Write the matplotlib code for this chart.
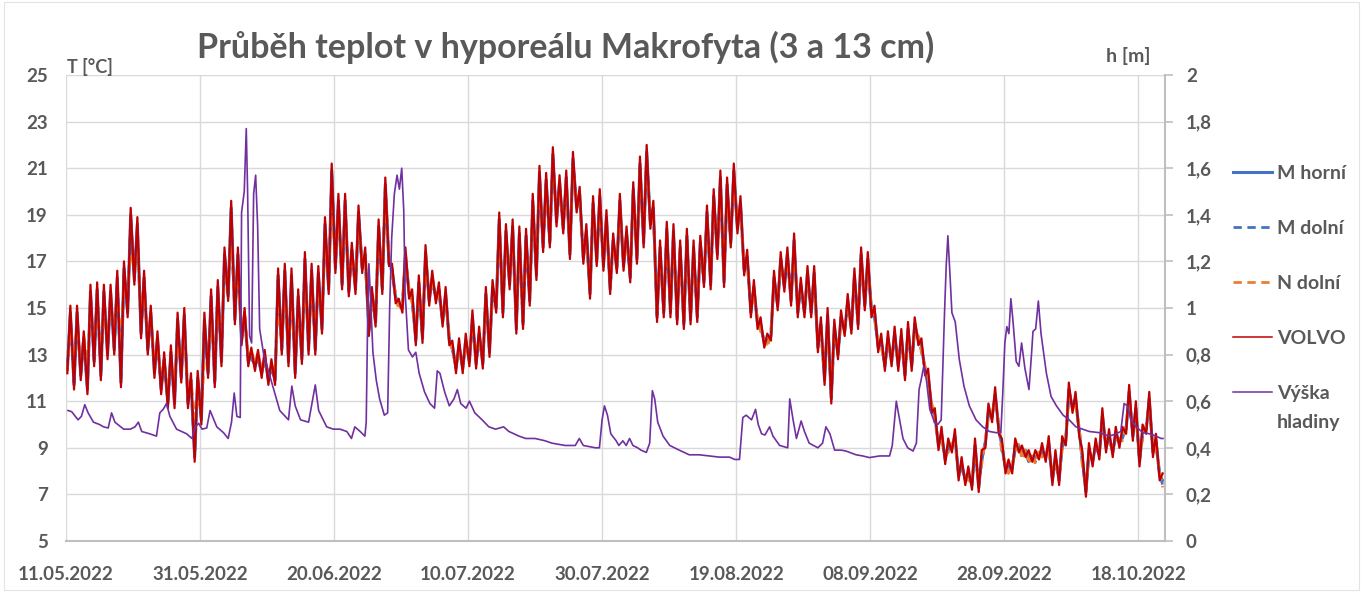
import matplotlib

matplotlib.use("Agg")
import matplotlib.dates as mdates
import matplotlib.pyplot as plt
import numpy as np
import pandas as pd
from matplotlib.patches import Rectangle
from matplotlib.ticker import FuncFormatter

plt.rcParams["font.family"] = ["Lato", "DejaVu Sans"]
plt.rcParams["font.weight"] = "bold"

START = pd.Timestamp("2022-05-11")
N_DAYS = 164
TICK_STEP = 20
TITLE = "Průběh teplot v hyporeálu Makrofyta (3 a 13 cm)"

# daily (morning low, afternoon high) temperature in degC, from 11.05.2022
VOLVO = [
    (12.2, 15.1), (11.5, 15.1), (11.9, 14.0), (11.3, 16.0), (12.5, 16.1), (11.9, 16.0), (12.8, 16.0), (13.0, 16.6), (11.6, 17.0), (14.6, 19.3),
    (16.0, 18.9), (13.7, 16.6), (13.0, 15.1), (12.0, 14.0), (11.3, 13.1), (10.7, 13.4), (10.7, 14.8), (11.8, 15.0), (10.7, 12.2), (8.4, 12.3),
    (10.0, 14.8), (12.0, 15.8), (11.6, 16.2), (12.5, 17.6), (15.3, 19.6), (14.3, 17.6), (13.4, 15.0), (12.5, 13.3), (12.3, 13.2), (12.0, 13.2),
    (11.7, 12.8), (11.7, 16.7), (13.0, 16.9), (12.5, 16.7), (12.0, 15.8), (12.6, 17.4), (13.0, 16.9), (13.0, 16.8), (13.9, 18.9), (15.6, 21.2),
    (16.5, 19.9), (15.8, 19.9), (15.5, 17.8), (15.6, 19.4), (16.5, 17.6), (13.8, 15.9), (14.2, 18.8), (15.6, 20.6), (16.8, 16.9), (15.2, 15.4),
    (14.8, 17.6), (15.4, 15.8), (13.4, 16.4), (13.5, 17.7), (15.1, 16.6), (15.2, 16.1), (14.2, 15.9), (13.4, 13.6), (12.2, 13.7), (12.2, 13.9),
    (12.5, 14.9), (12.4, 14.2), (12.4, 15.9), (12.9, 16.2), (14.8, 19.1), (14.6, 18.6), (15.8, 18.8), (13.9, 18.5), (14.1, 18.4), (15.1, 19.9),
    (16.2, 21.1), (17.4, 20.8), (17.6, 21.9), (18.5, 20.7), (18.2, 20.9), (17.1, 21.7), (19.1, 20.2), (16.9, 18.6), (15.4, 19.8), (16.8, 20.1),
    (16.6, 19.2), (15.6, 18.2), (16.5, 19.9), (16.6, 18.5), (16.1, 20.4), (16.9, 21.5), (17.6, 22.0), (18.4, 19.6), (14.4, 17.9), (14.6, 18.7),
    (14.6, 18.6), (14.3, 17.9), (14.1, 18.4), (14.3, 17.9), (14.4, 18.1), (15.9, 19.4), (15.8, 20.1), (17.1, 20.9), (15.9, 20.6), (17.6, 21.2),
    (18.2, 19.8), (16.4, 17.5), (14.6, 16.2), (14.1, 14.6), (13.3, 13.9), (13.6, 16.6), (14.9, 17.4), (15.7, 17.6), (15.1, 18.2), (14.6, 16.3),
    (14.6, 16.8), (14.6, 16.8), (13.1, 14.6), (11.7, 15.0), (10.9, 14.5), (12.8, 14.9), (13.8, 15.6), (13.9, 16.7), (14.1, 17.6), (14.9, 17.4),
    (14.6, 15.1), (13.1, 13.9), (12.3, 14.0), (12.5, 14.2), (12.3, 14.1), (11.9, 14.4), (12.3, 14.6), (13.4, 13.7), (12.1, 12.4), (10.5, 10.7),
    (8.9, 9.9), (8.3, 9.4), (8.8, 9.8), (7.6, 8.6), (7.4, 8.2), (7.2, 9.4), (7.1, 8.9), (9.0, 10.9), (10.1, 11.6), (9.6, 9.4),
    (7.9, 8.5), (7.9, 9.4), (8.8, 9.1), (8.6, 8.9), (8.4, 8.9), (8.5, 9.2), (8.4, 9.5), (7.4, 8.9), (7.4, 9.5), (9.1, 11.8),
    (10.5, 11.4), (9.5, 8.9), (6.9, 9.2), (8.2, 9.4), (8.5, 10.7), (8.8, 9.8), (8.6, 9.9), (9.0, 9.9), (9.6, 11.7), (9.3, 11.0),
    (8.2, 10.0), (9.6, 11.4), (8.6, 9.6), (7.6, 7.9),
]

M_HORNI = [
    (12.4, 14.8), (11.7, 14.8), (12.1, 13.7), (11.5, 15.7), (12.7, 15.8), (12.1, 15.7), (13.0, 15.7), (13.2, 16.3), (11.8, 16.7), (14.8, 19.0),
    (16.2, 18.6), (13.9, 16.3), (13.2, 14.8), (12.2, 13.7), (11.5, 12.8), (10.9, 13.1), (10.9, 14.5), (12.0, 14.7), (10.9, 11.9), (8.6, 12.0),
    (10.2, 14.5), (12.2, 15.5), (11.8, 15.9), (12.7, 17.3), (15.5, 19.3), (14.5, 17.3), (13.6, 14.7), (12.7, 13.0), (12.5, 12.9), (12.2, 12.9),
    (11.9, 12.5), (11.9, 16.4), (13.2, 16.6), (12.7, 16.4), (12.2, 15.5), (12.8, 17.1), (13.2, 16.6), (13.2, 16.5), (14.1, 18.6), (15.8, 20.9),
    (16.7, 19.6), (16.0, 19.6), (15.7, 17.5), (15.8, 19.1), (16.7, 17.3), (14.0, 15.6), (14.4, 18.5), (15.8, 20.3), (16.9, 16.7), (15.4, 15.2),
    (15.0, 17.3), (15.6, 15.5), (13.6, 16.1), (13.7, 17.4), (15.3, 16.3), (15.4, 15.8), (14.4, 15.6), (13.6, 13.4), (12.4, 13.4), (12.4, 13.6),
    (12.7, 14.6), (12.6, 13.9), (12.6, 15.6), (13.1, 15.9), (15.0, 18.8), (14.8, 18.3), (16.0, 18.5), (14.1, 18.2), (14.3, 18.1), (15.3, 19.6),
    (16.4, 20.8), (17.6, 20.5), (17.8, 21.6), (18.7, 20.4), (18.4, 20.6), (17.3, 21.4), (19.3, 19.9), (17.1, 18.3), (15.6, 19.5), (17.0, 19.8),
    (16.8, 18.9), (15.8, 17.9), (16.7, 19.6), (16.8, 18.2), (16.3, 20.1), (17.1, 21.2), (17.8, 21.7), (18.6, 19.3), (14.6, 17.6), (14.8, 18.4),
    (14.8, 18.3), (14.5, 17.6), (14.3, 18.1), (14.5, 17.6), (14.6, 17.8), (16.1, 19.1), (16.0, 19.8), (17.3, 20.6), (16.1, 20.3), (17.8, 20.9),
    (18.4, 19.5), (16.6, 17.2), (14.8, 15.9), (14.3, 14.3), (13.5, 13.6), (13.8, 16.3), (15.1, 17.1), (15.9, 17.3), (15.3, 17.9), (14.8, 16.0),
    (14.8, 16.5), (14.8, 16.5), (13.3, 14.3), (11.9, 14.7), (11.1, 14.2), (13.0, 14.6), (14.0, 15.3), (14.1, 16.4), (14.3, 17.3), (15.1, 17.1),
    (14.8, 14.8), (13.3, 13.6), (12.5, 13.7), (12.7, 13.9), (12.5, 13.8), (12.1, 14.1), (12.5, 14.3), (13.6, 13.4), (12.3, 12.1), (10.7, 10.4),
    (9.1, 9.6), (8.5, 9.1), (9.0, 9.5), (7.8, 8.3), (7.6, 7.9), (7.4, 9.1), (7.3, 8.6), (9.2, 10.6), (10.3, 11.3), (9.8, 9.1),
    (8.1, 8.2), (8.1, 9.1), (9.0, 8.8), (8.8, 8.6), (8.6, 8.6), (8.7, 8.9), (8.6, 9.2), (7.6, 8.6), (7.6, 9.2), (9.3, 11.5),
    (10.7, 11.1), (9.7, 8.6), (7.1, 8.9), (8.4, 9.1), (8.7, 10.4), (9.0, 9.5), (8.8, 9.6), (9.2, 9.6), (9.8, 11.4), (9.5, 10.7),
    (8.4, 9.7), (9.8, 11.1), (8.8, 9.3), (7.8, 7.6),
]

M_DOLNI = [
    (12.5, 14.6), (11.8, 14.6), (12.2, 13.5), (11.6, 15.5), (12.8, 15.6), (12.2, 15.5), (13.1, 15.5), (13.3, 16.1), (11.9, 16.5), (14.9, 18.8),
    (16.3, 18.4), (14.0, 16.1), (13.3, 14.6), (12.3, 13.5), (11.6, 12.6), (11.0, 12.9), (11.0, 14.3), (12.1, 14.5), (11.0, 11.7), (8.7, 11.8),
    (10.3, 14.3), (12.3, 15.3), (11.9, 15.7), (12.8, 17.1), (15.6, 19.1), (14.6, 17.1), (13.7, 14.5), (12.8, 12.8), (12.6, 12.7), (12.3, 12.7),
    (12.0, 12.3), (12.0, 16.2), (13.3, 16.4), (12.8, 16.2), (12.3, 15.3), (12.9, 16.9), (13.3, 16.4), (13.3, 16.3), (14.2, 18.4), (15.9, 20.7),
    (16.8, 19.4), (16.1, 19.4), (15.8, 17.3), (15.9, 18.9), (16.8, 17.1), (14.1, 15.4), (14.5, 18.3), (15.9, 20.1), (17.0, 16.5), (15.5, 15.0),
    (15.1, 17.1), (15.7, 15.3), (13.7, 15.9), (13.8, 17.2), (15.4, 16.1), (15.5, 15.6), (14.5, 15.4), (13.7, 13.2), (12.5, 13.2), (12.5, 13.4),
    (12.8, 14.4), (12.7, 13.7), (12.7, 15.4), (13.2, 15.7), (15.1, 18.6), (14.9, 18.1), (16.1, 18.3), (14.2, 18.0), (14.4, 17.9), (15.4, 19.4),
    (16.5, 20.6), (17.7, 20.3), (17.9, 21.4), (18.8, 20.2), (18.5, 20.4), (17.4, 21.2), (19.4, 19.7), (17.2, 18.1), (15.7, 19.3), (17.1, 19.6),
    (16.9, 18.7), (15.9, 17.7), (16.8, 19.4), (16.9, 18.0), (16.4, 19.9), (17.2, 21.0), (17.9, 21.5), (18.7, 19.1), (14.7, 17.4), (14.9, 18.2),
    (14.9, 18.1), (14.6, 17.4), (14.4, 17.9), (14.6, 17.4), (14.7, 17.6), (16.2, 18.9), (16.1, 19.6), (17.4, 20.4), (16.2, 20.1), (17.9, 20.7),
    (18.5, 19.3), (16.7, 17.0), (14.9, 15.7), (14.4, 14.1), (13.6, 13.4), (13.9, 16.1), (15.2, 16.9), (16.0, 17.1), (15.4, 17.7), (14.9, 15.8),
    (14.9, 16.3), (14.9, 16.3), (13.4, 14.1), (12.0, 14.5), (11.2, 14.0), (13.1, 14.4), (14.1, 15.1), (14.2, 16.2), (14.4, 17.1), (15.2, 16.9),
    (14.9, 14.6), (13.4, 13.4), (12.6, 13.5), (12.8, 13.7), (12.6, 13.6), (12.2, 13.9), (12.6, 14.1), (13.7, 13.2), (12.4, 11.9), (10.8, 10.2),
    (9.2, 9.4), (8.6, 8.9), (9.1, 9.3), (7.9, 8.1), (7.7, 7.7), (7.5, 8.9), (7.4, 8.4), (9.3, 10.4), (10.4, 11.1), (9.9, 8.9),
    (8.2, 8.0), (8.2, 8.9), (9.1, 8.6), (8.9, 8.4), (8.7, 8.4), (8.8, 8.7), (8.7, 9.0), (7.7, 8.4), (7.7, 9.0), (9.4, 11.3),
    (10.8, 10.9), (9.8, 8.4), (7.2, 8.7), (8.5, 8.9), (8.8, 10.2), (9.1, 9.3), (8.9, 9.4), (9.3, 9.4), (9.9, 11.2), (9.6, 10.5),
    (8.5, 9.5), (9.9, 10.9), (8.9, 9.1), (7.9, 7.4),
]

N_DOLNI = [
    (12.3, 14.3), (12.6, 14.4), (12.4, 13.8), (12.6, 14.8), (13.4, 15.1), (13.1, 14.8), (13.7, 15.2), (14.0, 15.6), (13.5, 16.0), (15.8, 17.3),
    (16.8, 17.5), (14.8, 15.8), (13.6, 14.6), (12.6, 13.5), (11.9, 12.7), (11.5, 12.6), (12.0, 13.4), (12.6, 14.0), (11.2, 11.9), (10.3, 11.0),
    (10.6, 12.8), (12.9, 14.3), (12.9, 14.8), (14.0, 16.2), (16.4, 17.6), (15.3, 16.8), (13.8, 14.8), (12.8, 13.2), (12.6, 13.1), (12.3, 13.0),
    (12.0, 12.6), (12.2, 15.0), (13.6, 15.6), (13.3, 15.3), (12.8, 14.8), (13.4, 16.0), (13.7, 15.9), (13.8, 16.0), (14.6, 17.8), (16.4, 19.6),
    (16.9, 19.3), (16.2, 19.3), (15.9, 17.2), (16.0, 18.8), (16.9, 17.0), (14.2, 15.3), (14.6, 18.2), (16.0, 20.0), (17.1, 16.4), (15.6, 14.9),
    (15.2, 17.0), (15.8, 15.2), (13.8, 15.8), (13.9, 17.1), (15.5, 16.0), (15.6, 15.5), (14.6, 15.3), (13.8, 13.1), (12.6, 13.1), (12.6, 13.3),
    (12.9, 14.3), (12.8, 13.6), (12.8, 15.3), (13.3, 15.6), (15.2, 18.5), (15.0, 18.0), (16.2, 18.2), (14.3, 17.9), (14.5, 17.8), (15.5, 19.3),
    (16.6, 20.5), (17.8, 20.2), (18.0, 21.3), (18.9, 20.1), (18.6, 20.3), (17.5, 21.1), (19.5, 19.6), (17.3, 18.0), (15.8, 19.2), (17.2, 19.5),
    (17.0, 18.6), (16.0, 17.6), (16.9, 19.3), (17.0, 17.9), (16.5, 19.8), (17.3, 20.9), (18.0, 21.4), (18.8, 19.0), (14.8, 17.3), (15.0, 18.1),
    (15.0, 18.0), (14.7, 17.3), (14.5, 17.8), (14.7, 17.3), (14.8, 17.5), (16.3, 18.8), (16.2, 19.5), (17.5, 20.3), (16.3, 20.0), (18.0, 20.6),
    (18.6, 19.2), (16.8, 16.9), (15.0, 15.6), (14.5, 14.0), (13.7, 13.3), (14.0, 16.0), (15.3, 16.8), (16.1, 17.0), (15.5, 17.6), (15.0, 15.7),
    (15.0, 16.2), (15.0, 16.2), (13.5, 14.0), (12.1, 14.4), (11.3, 13.9), (13.2, 14.3), (14.2, 15.0), (14.3, 16.1), (14.5, 17.0), (15.3, 16.8),
    (15.0, 14.5), (13.5, 13.3), (12.7, 13.4), (12.9, 13.6), (12.7, 13.5), (12.3, 13.8), (12.7, 14.0), (13.8, 13.1), (12.5, 11.8), (10.9, 10.1),
    (9.3, 9.3), (8.7, 8.8), (9.2, 9.2), (8.0, 8.0), (7.8, 7.6), (7.6, 8.8), (7.5, 8.3), (9.4, 10.3), (10.5, 11.0), (10.0, 8.8),
    (8.3, 7.9), (8.3, 8.8), (9.2, 8.5), (9.0, 8.3), (8.8, 8.3), (8.9, 8.6), (8.8, 8.9), (7.8, 8.3), (7.8, 8.9), (9.5, 11.2),
    (10.9, 10.8), (9.9, 8.3), (7.3, 8.6), (8.6, 8.8), (8.9, 10.1), (9.2, 9.2), (9.0, 9.3), (9.4, 9.3), (10.0, 11.1), (9.7, 10.4),
    (8.6, 9.4), (10.0, 10.8), (9.0, 9.0), (8.0, 7.3),
]

# water level: (day since 11.05.2022, h in m)
HLADINA = [
    (0.3, 0.56), (0.85, 0.555), (1.8, 0.52), (2.3, 0.535), (2.8, 0.585), (3.3, 0.55), (4.1, 0.51), (5.0, 0.50), (5.6, 0.49), (6.3, 0.485),
    (6.8, 0.55), (7.3, 0.51), (8.6, 0.48), (9.6, 0.48), (10.3, 0.49), (10.8, 0.51), (11.3, 0.47), (12.5, 0.46), (13.5, 0.45), (14.0, 0.55),
    (14.5, 0.565), (15.0, 0.59), (15.5, 0.535), (16.5, 0.48), (18.0, 0.46), (18.8, 0.44), (19.3, 0.49), (19.8, 0.505), (20.3, 0.48), (21.0, 0.485),
    (21.5, 0.56), (22.5, 0.49), (23.5, 0.465), (24.2, 0.44), (24.7, 0.51), (25.1, 0.635), (25.5, 0.535), (26.0, 0.53), (26.2, 1.41), (26.6, 1.5),
    (26.9, 1.77), (27.1, 1.5), (27.4, 0.88), (27.7, 0.85), (28.0, 1.49), (28.3, 1.57), (28.6, 1.35), (28.9, 0.91), (29.5, 0.8), (30.4, 0.71),
    (31.9, 0.56), (33.2, 0.52), (33.7, 0.665), (34.2, 0.58), (35.0, 0.52), (36.2, 0.51), (37.2, 0.67), (37.7, 0.56), (38.9, 0.49), (39.9, 0.48),
    (40.9, 0.48), (41.9, 0.47), (42.6, 0.44), (43.1, 0.49), (43.9, 0.47), (44.6, 0.45), (44.8, 0.51), (45.0, 0.92), (45.2, 1.19), (45.4, 1.07),
    (45.8, 0.81), (46.3, 0.69), (46.8, 0.61), (47.5, 0.54), (48.0, 0.55), (48.3, 1.0), (48.6, 1.3), (49.0, 1.49), (49.4, 1.57), (49.75, 1.51),
    (50.1, 1.6), (50.4, 1.42), (50.6, 1.07), (51.1, 0.82), (51.7, 0.79), (52.2, 0.81), (52.7, 0.72), (53.5, 0.64), (54.3, 0.59), (55.0, 0.57),
    (55.4, 0.73), (55.8, 0.72), (56.5, 0.64), (57.2, 0.58), (57.9, 0.61), (58.4, 0.65), (58.9, 0.59), (59.7, 0.57), (60.2, 0.60), (61.0, 0.55),
    (62.1, 0.52), (63.1, 0.49), (64.1, 0.48), (65.3, 0.49), (66.1, 0.47), (67.6, 0.45), (68.6, 0.44), (70.0, 0.44), (71.5, 0.43), (72.5, 0.42),
    (74.5, 0.41), (76.0, 0.41), (76.6, 0.44), (77.2, 0.41), (79.0, 0.40), (79.6, 0.40), (80.0, 0.52), (80.35, 0.58), (80.8, 0.54), (81.3, 0.46),
    (82.1, 0.43), (82.5, 0.41), (83.1, 0.43), (83.6, 0.41), (84.1, 0.44), (84.6, 0.41), (85.3, 0.40), (85.8, 0.39), (86.6, 0.38), (87.1, 0.42),
    (87.5, 0.645), (87.85, 0.61), (88.3, 0.51), (89.1, 0.45), (90.1, 0.41), (91.5, 0.39), (93.0, 0.37), (94.5, 0.37), (96.0, 0.365), (97.5, 0.36),
    (99.0, 0.36), (99.8, 0.35), (100.5, 0.35), (101.0, 0.53), (101.5, 0.54), (102.3, 0.52), (102.9, 0.565), (103.3, 0.50), (103.8, 0.46), (104.3, 0.455),
    (105.0, 0.49), (105.5, 0.45), (106.5, 0.41), (107.7, 0.40), (108.0, 0.61), (108.5, 0.52), (109.0, 0.44), (109.7, 0.515), (110.2, 0.47), (110.9, 0.42),
    (112.2, 0.40), (112.9, 0.42), (113.4, 0.49), (114.0, 0.46), (114.7, 0.39), (115.7, 0.39), (116.4, 0.386), (117.9, 0.37), (118.9, 0.365), (119.9, 0.358),
    (121.4, 0.365), (122.9, 0.365), (123.3, 0.41), (123.9, 0.60), (124.4, 0.52), (124.9, 0.44), (125.6, 0.40), (126.4, 0.386), (126.9, 0.42), (127.3, 0.65),
    (127.6, 0.69), (128.0, 0.75), (128.4, 0.69), (128.9, 0.565), (129.6, 0.51), (130.1, 0.50), (130.6, 0.52), (130.8, 0.71), (131.1, 0.98), (131.35, 1.18),
    (131.6, 1.31), (131.9, 1.15), (132.2, 0.98), (132.7, 0.94), (133.3, 0.78), (134.0, 0.665), (134.8, 0.58), (135.8, 0.52), (136.8, 0.49), (137.8, 0.47),
    (138.8, 0.465), (139.5, 0.465), (139.8, 0.64), (140.1, 0.85), (140.4, 0.92), (140.7, 0.89), (141.0, 1.04), (141.3, 0.95), (141.8, 0.77), (142.2, 0.75),
    (142.6, 0.85), (143.1, 0.74), (143.7, 0.65), (144.1, 0.81), (144.3, 0.9), (144.7, 0.91), (145.1, 1.03), (145.5, 0.89), (146.3, 0.72), (147.0, 0.62),
    (147.8, 0.58), (148.8, 0.54), (149.7, 0.52), (150.7, 0.49), (151.7, 0.48), (152.7, 0.47), (154.2, 0.465), (155.7, 0.45), (156.7, 0.46), (157.4, 0.47),
    (157.9, 0.59), (158.4, 0.58), (158.9, 0.52), (159.7, 0.49), (160.7, 0.465), (161.7, 0.46), (162.7, 0.45), (163.4, 0.44), (163.7, 0.44),
]

TEXT = "#595959"
GRID = "#D9D9D9"


def daily_series(pairs):
    days = np.arange(len(pairs))
    t = np.column_stack([days + 0.2, days + 0.65]).ravel()
    return START + pd.to_timedelta(t, unit="D"), np.asarray(pairs, float).ravel()


def comma(v, _pos):
    s = f"{v:.1f}".replace(".", ",")
    return s[:-2] if s.endswith(",0") else s


def main() -> None:
    fig = plt.figure(figsize=(13.63, 5.92), dpi=100)
    ax = fig.add_axes([66 / 1363, 1 - 541 / 592, 1099 / 1363, 466 / 592])
    ax2 = ax.twinx()

    styles = [
        ("M horní", M_HORNI, dict(color="#4472C4", lw=2.2)),
        ("M dolní", M_DOLNI, dict(color="#4472C4", lw=2.0, ls=(0, (3, 2)))),
        ("N dolní", N_DOLNI, dict(color="#ED7D31", lw=2.0, ls=(0, (3, 2)))),
        ("VOLVO", VOLVO, dict(color="#C00000", lw=1.6)),
    ]
    handles = []
    for name, pairs, kw in styles:
        t, v = daily_series(pairs)
        (ln,) = ax.plot(t, v, label=name, **kw)
        handles.append(ln)

    wl_t = START + pd.to_timedelta([d for d, _ in HLADINA], unit="D")
    (ln,) = ax2.plot(wl_t, [h for _, h in HLADINA], color="#7030A0", lw=1.2,
                     label="Výška")
    handles.append(ln)

    ax.set_ylim(5, 25)
    ax.set_yticks(np.arange(5, 26, 2))
    ax2.set_ylim(0, 2)
    ax2.set_yticks(np.arange(0, 2.01, 0.2))
    ax2.yaxis.set_major_formatter(FuncFormatter(comma))

    ax.set_xlim(START, START + pd.Timedelta(days=N_DAYS))
    ax.set_xticks([START + pd.Timedelta(days=TICK_STEP * k) for k in range(9)])
    ax.xaxis.set_major_formatter(mdates.DateFormatter("%d.%m.%Y"))
    ax.grid(True, color=GRID, lw=1.0)
    ax.set_axisbelow(True)

    for a in (ax, ax2):
        for side in ("left", "top", "right", "bottom"):
            a.spines[side].set_visible(False)
    ax.spines["bottom"].set_visible(True)
    ax.spines["bottom"].set_color("#BFBFBF")
    ax.spines["bottom"].set_linewidth(1.5)
    ax2.spines["right"].set_visible(True)
    ax2.spines["right"].set_color("#BFBFBF")
    ax2.spines["right"].set_linewidth(1.5)

    ax.tick_params(axis="y", length=0, pad=13, labelsize=13.5, labelcolor=TEXT)
    ax.tick_params(axis="x", length=0, pad=18, labelsize=13.5, labelcolor=TEXT)
    ax2.tick_params(axis="y", length=6, width=1.2, color="#BFBFBF", pad=9,
                    labelsize=13.5, labelcolor=TEXT)

    fig.text(566 / 1363, 1 - 47 / 592, TITLE, ha="center", va="center",
             fontsize=24.5, fontweight="bold", color=TEXT)
    fig.text(67 / 1363, 1 - 67 / 592, "T [°C]", ha="left", va="center",
             fontsize=13, fontweight="bold", color=TEXT)
    fig.text(1150 / 1363, 1 - 56 / 592, "h [m]", ha="right", va="center",
             fontsize=14, fontweight="bold", color=TEXT)

    leg = fig.legend(handles, [h.get_label() for h in handles], loc="upper left",
                     bbox_to_anchor=(1233 / 1363, 1 - 165 / 592), frameon=False,
                     fontsize=14, handlelength=2.0, handletextpad=0.26,
                     labelspacing=1.95, borderpad=0, borderaxespad=0)
    for txt in leg.get_texts():
        txt.set_color(TEXT)
    for lh in leg.legend_handles[3:]:
        lh.set_linewidth(1.1)

    # second line of the last legend label, below "Výška"
    fig.canvas.draw()
    last = leg.get_texts()[-1]
    bb = last.get_window_extent().transformed(fig.transFigure.inverted())
    fig.text(bb.x0, bb.y0 - 0.02, "hladiny", ha="left", va="top",
             fontsize=14, fontweight="bold", color=TEXT)

    fig.add_artist(Rectangle((0.003, 0.003), 0.994, 0.994, transform=fig.transFigure,
                             fill=False, edgecolor="#E3E3E3", lw=0.8))
    fig.savefig("out.png", dpi=100)
    plt.close(fig)


if __name__ == "__main__":
    main()
